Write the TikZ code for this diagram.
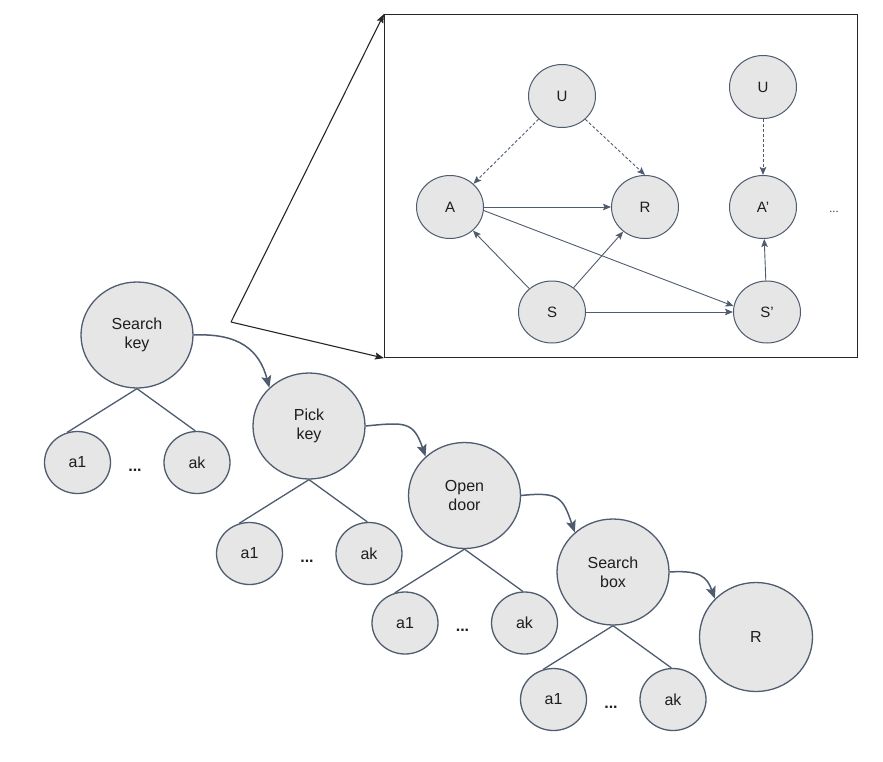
\documentclass[tikz,border=0pt]{standalone}
\usepackage{fontspec}
\setmainfont{Liberation Sans}
\usetikzlibrary{shapes.geometric,arrows.meta}
\definecolor{edgecol}{HTML}{4F5B6E}
\definecolor{fillcol}{HTML}{E6E6E6}
\definecolor{txtcol}{HTML}{1E1E1E}
\tikzset{
  circ/.style={ellipse, draw=edgecol, fill=fillcol, line width=1.3pt, inner sep=0pt, align=center, text=txtcol, font=\fontsize{16}{19}\selectfont},
  big/.style={circ, minimum width=112pt, minimum height=106pt},
  leaf/.style={circ, minimum width=66pt, minimum height=62pt},
  small/.style={ellipse, draw=edgecol, fill=fillcol, line width=1pt, inner sep=0pt, text=txtcol, minimum width=67pt, minimum height=63pt, font=\fontsize{15}{17}\selectfont},
  treeedge/.style={draw=edgecol, line width=1.3pt},
  flowarrow/.style={draw=edgecol, line width=1.5pt, -{Stealth[length=12pt,width=10pt,inset=2.5pt]}},
  netarrow/.style={draw=edgecol, line width=0.9pt, -{Stealth[length=8pt,width=6.5pt,inset=1.5pt]}},
  netdash/.style={netarrow, dash pattern=on 3pt off 2pt},
  zoomline/.style={draw=black!85, line width=1.1pt, -{Stealth[length=9pt,width=7pt,inset=1.5pt]}},
  dotstxt/.style={text=txtcol, font=\fontsize{16}{19}\selectfont\bfseries, inner sep=0pt}
}
\begin{document}
\begin{tikzpicture}[x=1pt,y=-1pt]
\useasboundingbox (0,0) rectangle (883,761);
% inset box
\node[draw=black!85, line width=1.1pt, minimum width=473pt, minimum height=343pt, inner sep=0pt, anchor=north west] (box) at (384,14) {};
\coordinate (v) at (231,322);
\draw[zoomline] (v) -- (box.north west);
\draw[zoomline] (v) -- (box.south west);
% inset network
\node[small] (u1) at (562,96) {U};
\node[small] (u2) at (763,87) {U};
\node[small] (na) at (450,207) {A};
\node[small] (nr) at (645,207) {R};
\node[small] (nap) at (763,207) {A’};
\node[small, minimum height=62pt] (ns) at (552,312) {S};
\node[small, minimum height=62pt] (nsp) at (767,312) {S’};
\node[text=txtcol, font=\fontsize{11}{13}\selectfont, inner sep=0pt] (ndots) at (834,212) {...};
\draw[netdash] (u1) -- (na);
\draw[netdash] (u1.-45) -- (nr.north);
\draw[netdash] (u2) -- (nap);
\draw[netarrow] (na) -- (nr);
\draw[netarrow] (na.-6) -- (nsp.170);
\draw[netarrow] (ns) -- (na);
\draw[netarrow] (ns) -- (nr);
\draw[netarrow] (ns) -- (nsp);
\draw[netarrow] (nsp) -- (nap);
% tree
\node[big] (sk) at (137,335) {Search\\key};
\node[big] (pk) at (309,426) {Pick\\key};
\node[big] (od) at (464.5,495.5) {Open\\door};
\node[big] (sb) at (613,572) {Search\\box};
\node[big, minimum width=113pt, minimum height=109pt] (rr) at (756,637) {R};
\foreach \p/\x/\y in {sk/137/335, pk/309/426, od/464.5/495.5, sb/613/572} {
  \node[leaf] (\p a) at (\x-59.5,\y+127.5) {a1};
  \node[leaf] (\p k) at (\x+60,\y+127.5) {ak};
  \node[dotstxt] (\p d) at (\x-2,\y+135) {...};
  \draw[treeedge] (\p.south) -- (\p a.109);
  \draw[treeedge] (\p.south) -- (\p k.93);
}
\draw[flowarrow] (sk.east) .. controls +(45,-2) and +(-10,-38) .. (pk.136);
\draw[flowarrow] (pk.east) .. controls +(40,-4) and +(-12,-35) .. (od.135);
\draw[flowarrow] (od.east) .. controls +(38,-4) and +(-12,-35) .. (sb.134);
\draw[flowarrow] (sb.east) .. controls +(30,-2) and +(-8,-22) .. (rr.137);
\end{tikzpicture}
\end{document}
